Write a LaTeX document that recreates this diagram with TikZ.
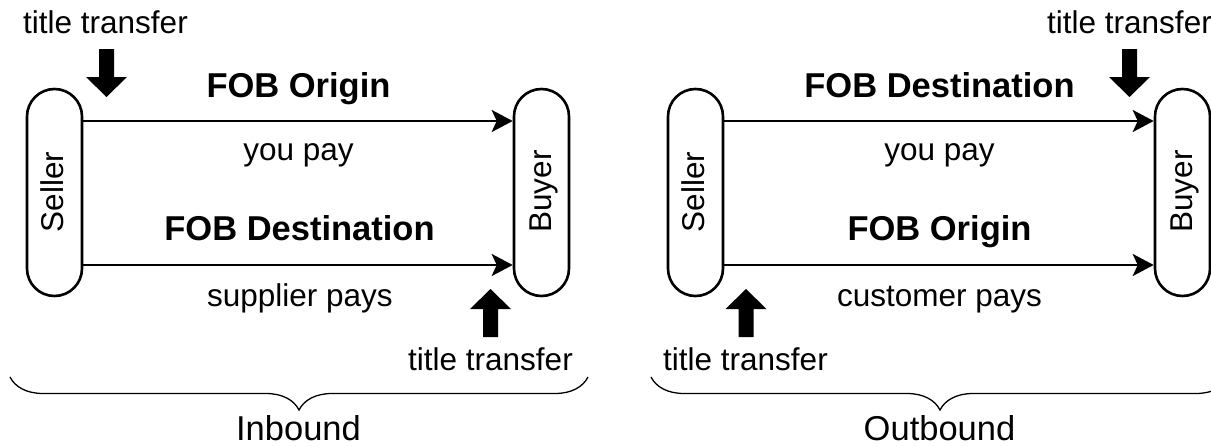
\documentclass[tikz,border=0pt]{standalone}
\usepackage{fontspec}
\setmainfont{Liberation Sans}
\usetikzlibrary{arrows.meta,decorations.pathreplacing}
\begin{document}
\begin{tikzpicture}[x=1pt,y=-1pt,
  pill/.style={draw, line width=2.6pt, rounded corners=27.5pt, minimum width=55pt, minimum height=207pt, inner sep=0pt},
  lbl/.style={font=\fontsize{31.5}{36}\selectfont, inner sep=0pt, anchor=base},
  blbl/.style={font=\fontsize{34.5}{40}\selectfont\bfseries, inner sep=0pt, anchor=base},
  biglbl/.style={font=\fontsize{34.5}{40}\selectfont, inner sep=0pt, anchor=base},
  vlbl/.style={font=\fontsize{31.5}{36}\selectfont, inner sep=0pt, anchor=base, rotate=90},
  flow/.style={line width=2.6pt, -{Stealth[length=21pt,width=22pt,inset=5pt]}},
  brc/.style={decorate, decoration={brace, mirror, amplitude=33pt}, line width=1.3pt},
  ttarrow/.pic={\fill (-7.5,0) -- (7.5,0) -- (7.5,28) -- (20.5,28) -- (0,48) -- (-20.5,28) -- (-7.5,28) -- cycle;}]
\clip (0,0) rectangle (1211,447);
\coordinate (ya) at (0,121);
\coordinate (yb) at (0,265);

% ---------- Inbound ----------
\node[pill] (s1) at (54.5,192.5) {};
\node[pill] (b1) at (541.5,192.5) {};
\node[vlbl] (s1t) at (63,192) {Seller};
\node[vlbl] (b1t) at (551,191.5) {Buyer};
\draw[flow] (s1.east |- ya) -- (b1.west |- ya);
\draw[flow] (s1.east |- yb) -- (b1.west |- yb);
\node[lbl] (tt1) at (105.5,33) {title transfer};
\pic at (106.5,49) {ttarrow};
\node[blbl] (o1) at (298.5,97) {FOB Origin};
\node[lbl] (p1) at (298.5,160) {you pay};
\node[blbl] (d1) at (299.5,240) {FOB Destination};
\node[lbl] (q1) at (300,306) {supplier pays};
\pic[rotate=180] at (490.5,337) {ttarrow};
\node[lbl] (tb1) at (490.5,370) {title transfer};
\draw[brc] (10,377) -- (588,377);
\node[biglbl] (in) at (298.5,440) {Inbound};

% ---------- Outbound ----------
\node[pill] (s2) at (695.5,192.5) {};
\node[pill] (b2) at (1182.5,192.5) {};
\node[vlbl] (s2t) at (704,192) {Seller};
\node[vlbl] (b2t) at (1192,191.5) {Buyer};
\draw[flow] (s2.east |- ya) -- (b2.west |- ya);
\draw[flow] (s2.east |- yb) -- (b2.west |- yb);
\node[lbl] (tt2) at (1129.5,33) {title transfer};
\pic at (1129.5,49) {ttarrow};
\node[blbl] (d2) at (939.5,97) {FOB Destination};
\node[lbl] (p2) at (939.5,160) {you pay};
\node[blbl] (o2) at (939.5,240) {FOB Origin};
\node[lbl] (q2) at (939.5,306) {customer pays};
\pic[rotate=180] at (746,337) {ttarrow};
\node[lbl] (tb2) at (745.5,370) {title transfer};
\draw[brc] (651,377) -- (1229,377);
\node[biglbl] (out) at (939.5,440) {Outbound};
\end{tikzpicture}
\end{document}
